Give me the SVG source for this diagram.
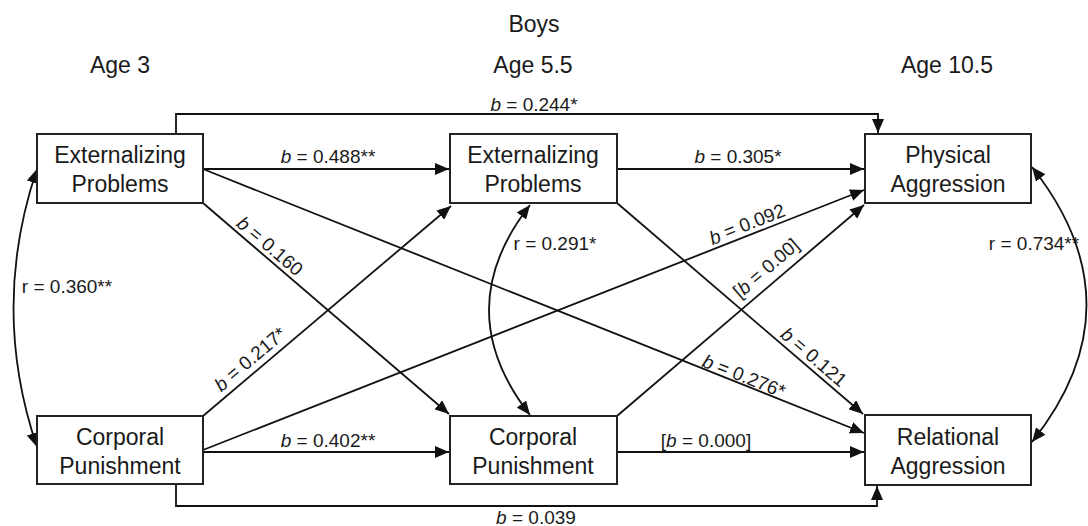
<svg xmlns="http://www.w3.org/2000/svg" width="1088" height="526" viewBox="0 0 1088 526">
<defs>
<style>
text{font-family:"Liberation Sans",Arial,sans-serif;fill:#1a1a1a}
.node rect{fill:#fff;stroke:#222;stroke-width:2}
.node text{font-size:23px;text-anchor:middle}
.hdr{font-size:23px;text-anchor:middle}
.lbl{font-size:19px;text-anchor:middle}
.rot{dominant-baseline:central}
.i{font-style:italic}
#edges path,#edges line{fill:none;stroke:#111;stroke-width:1.8}
</style>
<marker id="ah" markerUnits="userSpaceOnUse" markerWidth="14" markerHeight="12" viewBox="0 0 14 12" refX="14" refY="6" orient="auto-start-reverse">
<path d="M0,0 L14,6 L0,12 z" fill="#111"/>
</marker>
</defs>
<rect width="1088" height="526" fill="#fff"/>
<text class="hdr" x="534" y="32">Boys</text>
<text class="hdr" x="120" y="73">Age 3</text>
<text class="hdr" x="533" y="73">Age 5.5</text>
<text class="hdr" x="947" y="73">Age 10.5</text>
<g id="edges">
<path d="M176,134 V114 H878 V133" marker-end="url(#ah)"/>
<path d="M176,484 V506 H877 V486" marker-end="url(#ah)"/>
<line x1="203" y1="169" x2="449" y2="169" marker-end="url(#ah)"/>
<line x1="617" y1="169" x2="864" y2="169" marker-end="url(#ah)"/>
<line x1="203" y1="452" x2="449" y2="452" marker-end="url(#ah)"/>
<line x1="617" y1="452" x2="864" y2="452" marker-end="url(#ah)"/>
<line x1="203" y1="169" x2="864" y2="433" marker-end="url(#ah)"/>
<line x1="203" y1="203" x2="449" y2="414" marker-end="url(#ah)"/>
<line x1="203" y1="416" x2="451" y2="206" marker-end="url(#ah)"/>
<line x1="203" y1="450" x2="864" y2="190" marker-end="url(#ah)"/>
<line x1="617" y1="203" x2="863" y2="414" marker-end="url(#ah)"/>
<line x1="617" y1="416" x2="864" y2="205" marker-end="url(#ah)"/>
<path d="M37,169 Q-10,308 37,447" marker-start="url(#ah)" marker-end="url(#ah)"/>
<path d="M530,205 Q448,310 530,415" marker-start="url(#ah)" marker-end="url(#ah)"/>
<path d="M1032,167 Q1141,305 1032,442" marker-start="url(#ah)" marker-end="url(#ah)"/>
</g>
<g id="labels">
<text class="lbl" x="534" y="111"><tspan class="i">b</tspan> = 0.244*</text>
<text class="lbl" x="328" y="163"><tspan class="i">b</tspan> = 0.488**</text>
<text class="lbl" x="738" y="163"><tspan class="i">b</tspan> = 0.305*</text>
<text class="lbl" x="328" y="447"><tspan class="i">b</tspan> = 0.402**</text>
<text class="lbl" x="706" y="447">[<tspan class="i">b</tspan> = 0.000]</text>
<text class="lbl" x="536" y="524"><tspan class="i">b</tspan> = 0.039</text>
<text class="lbl" x="67" y="293">r = 0.360**</text>
<text class="lbl" x="555" y="250">r = 0.291*</text>
<text class="lbl" x="1034" y="250">r = 0.734**</text>
<text class="lbl rot" x="270" y="246" transform="rotate(40.6 270 246)"><tspan class="i">b</tspan> = 0.160</text>
<text class="lbl rot" x="250" y="359" transform="rotate(-40.1 250 359)"><tspan class="i">b</tspan> = 0.217*</text>
<text class="lbl rot" x="747" y="224" transform="rotate(-21.5 747 224)"><tspan class="i">b</tspan> = 0.092</text>
<text class="lbl rot" x="766" y="268" transform="rotate(-40.6 766 268)">[<tspan class="i">b</tspan> = 0.00]</text>
<text class="lbl rot" x="814" y="357" transform="rotate(40.7 814 357)"><tspan class="i">b</tspan> = 0.121</text>
<text class="lbl rot" x="744" y="376" transform="rotate(21.8 744 376)"><tspan class="i">b</tspan> = 0.276*</text>
</g>
<g id="n-ext3" class="node"><rect x="37" y="134" width="166" height="69"/><text x="120" y="163">Externalizing</text><text x="120" y="192">Problems</text></g>
<g id="n-cp3" class="node"><rect x="37" y="416" width="166" height="68"/><text x="120" y="445">Corporal</text><text x="120" y="474">Punishment</text></g>
<g id="n-ext55" class="node"><rect x="450" y="134" width="167" height="69"/><text x="533" y="163">Externalizing</text><text x="533" y="192">Problems</text></g>
<g id="n-cp55" class="node"><rect x="450" y="416" width="167" height="68"/><text x="533" y="445">Corporal</text><text x="533" y="474">Punishment</text></g>
<g id="n-phys" class="node"><rect x="865" y="134" width="166" height="69"/><text x="948" y="163">Physical</text><text x="948" y="192">Aggression</text></g>
<g id="n-rel" class="node"><rect x="865" y="415" width="166" height="70"/><text x="948" y="445">Relational</text><text x="948" y="474">Aggression</text></g>
</svg>
